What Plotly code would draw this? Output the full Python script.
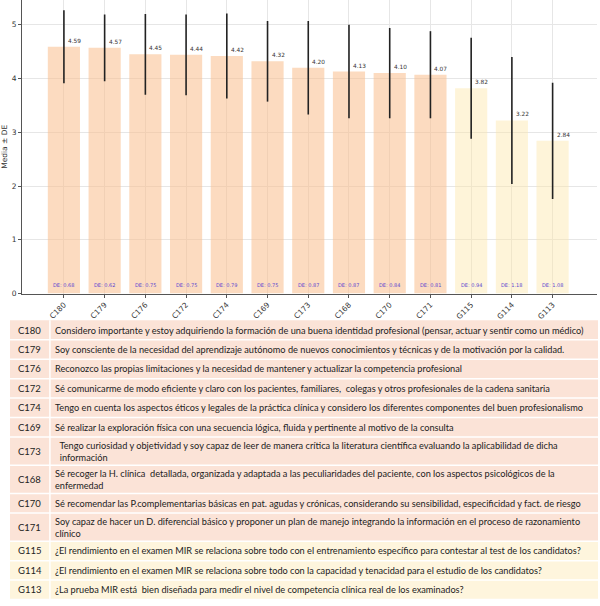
import plotly.graph_objects as go

# ---------------- data ----------------
codes = ["C180", "C179", "C176", "C172", "C174", "C169", "C173",
         "C168", "C170", "C171", "G115", "G114", "G113"]
means = [4.59, 4.57, 4.45, 4.44, 4.42, 4.32, 4.20, 4.13, 4.10, 4.07, 3.82, 3.22, 2.84]
sds = [0.68, 0.62, 0.75, 0.75, 0.79, 0.75, 0.87, 0.87, 0.84, 0.81, 0.94, 1.18, 1.08]
groups = ["C"] * 10 + ["G"] * 3
descriptions = [
    "Considero importante y estoy adquiriendo la formación de una buena identidad profesional (pensar, actuar y sentir como un médico)",
    "Soy consciente de la necesidad del aprendizaje autónomo de nuevos conocimientos y técnicas y de la motivación por la calidad.",
    "Reconozco las propias limitaciones y la necesidad de mantener y actualizar la competencia profesional",
    "Sé comunicarme de modo eficiente y claro con los pacientes, familiares,  colegas y otros profesionales de la cadena sanitaria",
    "Tengo en cuenta los aspectos éticos y legales de la práctica clínica y considero los diferentes componentes del buen profesionalismo",
    "Sé realizar la exploración física con una secuencia lógica, fluida y pertinente al motivo de la consulta",
    "\u00a0\u00a0Tengo curiosidad y objetividad y soy capaz de leer de manera crítica la literatura científica evaluando la aplicabilidad de dicha<br>\u00a0\u00a0información",
    "Sé recoger la H. clínica  detallada, organizada y adaptada a las peculiaridades del paciente, con los aspectos psicológicos de la<br>enfermedad",
    "Sé recomendar las P.complementarias básicas en pat. agudas y crónicas, considerando su sensibilidad, especificidad y fact. de riesgo",
    "Soy capaz de hacer un D. diferencial básico y proponer un plan de manejo integrando la información en el proceso de razonamiento<br>clínico",
    "¿El rendimiento en el examen MIR se relaciona sobre todo con el entrenamiento específico para contestar al test de los candidatos?",
    "¿El rendimiento en el examen MIR se relaciona sobre todo con la capacidad y tenacidad para el estudio de los candidatos?",
    "¿La prueba MIR está  bien diseñada para medir el nivel de competencia clínica real de los examinados?",
]

# ---------------- styles ----------------
W, H = 600, 606
bar_colors = {"C": "rgba(250,190,140,0.55)", "G": "rgba(253,230,170,0.45)"}
row_colors = {"C": "#FBE3D7", "G": "#FEF5DD"}
FONT = "DejaVu Sans"
TFONT = "Lato, sans-serif"

x_idx = list(range(len(codes)))

fig = go.Figure()
fig.add_trace(go.Bar(
    x=x_idx, y=means, width=0.79,
    marker=dict(color=[bar_colors[g] for g in groups], line=dict(width=0)),
    error_y=dict(type="data", array=sds, visible=True, color="#222222",
                 thickness=1.6, width=0),
    showlegend=False,
))

annotations = []
for i, (m, s) in enumerate(zip(means, sds)):
    annotations.append(dict(x=i, y=m, xref="x", yref="y", text=f"{m:.2f}",
                            showarrow=False, xanchor="left", yanchor="bottom",
                            xshift=2, yshift=1,
                            font=dict(family=FONT, size=5.8, color="#333333")))
    annotations.append(dict(x=i, y=0.15, xref="x", yref="y", text=f"DE: {s:.2f}",
                            showarrow=False, xanchor="center", yanchor="middle",
                            font=dict(family=FONT, size=5, color="#5b45d0")))

# ---------------- table below the chart ----------------
def py2paper(py):
    return 1 - py / H

shapes = []
tbl_top, tbl_left, tbl_right, tbl_div = 323, 9, 598, 49
single_h, double_h = 19.6, 28.5
y = tbl_top
for code, desc, g in zip(codes, descriptions, groups):
    h = double_h if "<br>" in desc else single_h
    shapes.append(dict(type="rect", xref="paper", yref="paper",
                       x0=tbl_left / W, x1=tbl_right / W,
                       y0=py2paper(y + h), y1=py2paper(y),
                       fillcolor=row_colors[g], line=dict(width=0), layer="below"))
    shapes.append(dict(type="line", xref="paper", yref="paper",
                       x0=tbl_left / W, x1=tbl_right / W,
                       y0=py2paper(y + h), y1=py2paper(y + h),
                       line=dict(color="white", width=1.5)))
    shapes.append(dict(type="line", xref="paper", yref="paper",
                       x0=tbl_div / W, x1=tbl_div / W,
                       y0=py2paper(y + h), y1=py2paper(y),
                       line=dict(color="white", width=1.5)))
    yc = py2paper(y + h / 2)
    annotations.append(dict(x=(tbl_left + tbl_div) / 2 / W, y=yc, xref="paper", yref="paper",
                            text=code, showarrow=False, xanchor="center", yanchor="middle",
                            font=dict(family=TFONT, size=9.5, color="#222222")))
    annotations.append(dict(x=(tbl_div + 3) / W, y=yc, xref="paper", yref="paper",
                            text=desc, showarrow=False, xanchor="left", yanchor="middle",
                            align="left",
                            font=dict(family=TFONT, size=9.2, color="#222222")))
    y += h

fig.update_layout(
    width=W, height=H,
    margin=dict(l=0, r=0, t=0, b=0),
    paper_bgcolor="white", plot_bgcolor="white",
    bargap=0.2,
    shapes=shapes,
    annotations=annotations,
    xaxis=dict(
        domain=[21 / W, 597 / W],
        range=[-1.03, 13.09],
        tickmode="array", tickvals=x_idx, ticktext=codes,
        tickangle=-45,
        tickfont=dict(family=FONT, size=7.5, color="#333333"),
        showgrid=True, gridcolor="#e6e6e6", gridwidth=0.8,
        showline=True, linecolor="#555555", linewidth=1,
        ticks="outside", ticklen=3, tickcolor="#555555",
        zeroline=False,
    ),
    yaxis=dict(
        domain=[1 - 296 / H, 1],
        range=[0, 5.46],
        tickmode="array", tickvals=[0, 1, 2, 3, 4, 5],
        tickfont=dict(family=FONT, size=7.5, color="#333333"),
        showgrid=True, gridcolor="#e6e6e6", gridwidth=0.8,
        showline=True, linecolor="#555555", linewidth=1,
        ticks="outside", ticklen=3, tickcolor="#555555",
        zeroline=False,
        title=dict(text="Media ± DE", font=dict(family=FONT, size=7.5, color="#333333"),
                   standoff=6),
    ),
)

fig.write_html("out.html", config={"displayModeBar": False},
               post_script="document.body.style.margin='0';")
